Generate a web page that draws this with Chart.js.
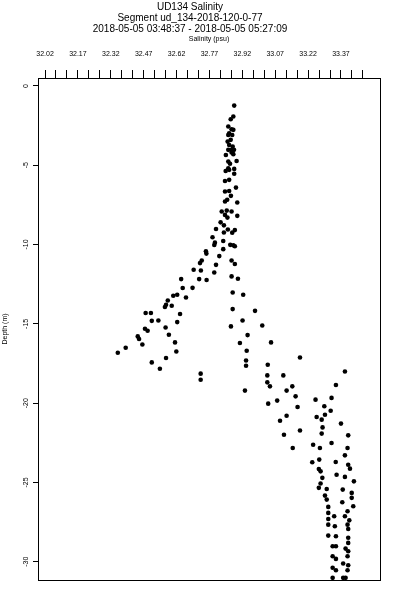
<!DOCTYPE html>
<html>
<head>
<meta charset="utf-8">
<script src="https://cdn.jsdelivr.net/npm/chart.js@4/dist/chart.umd.min.js"></script>
<style>
  body { margin: 0; background: #fff; }
  #wrap { width: 400px; height: 600px; }
</style>
</head>
<body>
<div id="wrap"><canvas id="salinidad" width="400" height="600"></canvas></div>
<script>
// Titulos
const titulo = ["UD134 Salinity", "Segment ud_134-2018-120-0-77", "2018-05-05 03:48:37 - 2018-05-05 05:27:09"];
const tituloX = "Salinity (psu)";
const tituloY = "Depth (m)";

// Marcas del eje X (cada 0.05, etiqueta cada 0.15)
const marcasX = [32.02, 32.07, 32.12, 32.17, 32.22, 32.27, 32.32, 32.37, 32.42, 32.47,
                 32.52, 32.57, 32.62, 32.67, 32.72, 32.77, 32.82, 32.87, 32.92, 32.97,
                 33.02, 33.07, 33.12, 33.17, 33.22, 33.27, 33.32, 33.37, 33.42, 33.47];
const etiquetasX = ["32.02", "32.17", "32.32", "32.47", "32.62", "32.77", "32.92", "33.07", "33.22", "33.37"];
const marcasY = [0, -5, -10, -15, -20, -25, -30];

// Salinidad (psu)
const salinidad = [
  32.883, 32.879, 32.867, 32.856, 32.871, 32.860, 32.874, 32.853, 32.867, 32.876,
  32.860, 32.856, 32.882, 32.871, 32.845, 32.894, 32.856, 32.864, 32.844, 32.860,
  32.883, 32.883, 32.841, 32.860, 32.891, 32.841, 32.860, 32.879, 32.856, 32.856,
  32.879, 32.871, 32.851, 32.841, 32.868, 32.897, 32.826, 32.849, 32.871, 32.841,
  32.897, 32.852, 32.821, 32.836, 32.800, 32.854, 32.886, 32.874, 32.836, 32.784,
  32.833, 32.795, 32.792, 32.865, 32.879, 32.886, 32.833, 32.754, 32.756, 32.815,
  32.735, 32.727, 32.800, 32.871, 32.886, 32.698, 32.731, 32.792, 32.871, 32.900,
  32.641, 32.723, 32.757, 32.648, 32.693, 32.663, 32.623, 32.605, 32.580, 32.572,
  32.567, 32.598, 32.479, 32.503, 32.636, 32.507, 32.537, 32.623, 32.476, 32.488,
  32.570, 32.585, 32.443, 32.449, 32.464, 32.613, 32.619, 32.388, 32.352, 32.507,
  32.572, 32.544, 32.730, 32.730, 32.876, 32.924, 32.876, 32.978, 32.921, 32.868,
  33.011, 32.944, 32.909, 33.051, 32.940, 33.183, 32.937, 32.937, 33.036, 33.388,
  33.034, 33.107, 33.034, 33.046, 33.148, 33.347, 33.122, 32.932, 33.163, 33.079,
  33.038, 33.254, 33.327, 33.172, 33.294, 33.323, 33.122, 33.092, 33.259, 33.297,
  33.282, 33.370, 33.286, 33.183, 33.110, 33.282, 33.403, 33.243, 33.274, 33.327,
  33.400, 33.150, 33.239, 33.271, 33.346, 33.388, 33.403, 33.269, 33.277, 33.350,
  33.388, 33.429, 33.285, 33.277, 33.269, 33.378, 33.419, 33.419, 33.297, 33.305,
  33.376, 33.426, 33.312, 33.312, 33.400, 33.388, 33.312, 33.339, 33.408, 33.312,
  33.400, 33.342, 33.403, 33.312, 33.347, 33.403, 33.403, 33.332, 33.347, 33.391,
  33.403, 33.332, 33.347, 33.400, 33.380, 33.403, 33.332, 33.347, 33.400, 33.332,
  33.380, 33.391, 33.411, 33.305
];

// Profundidad (m)
const profundidad = [
  -1.24, -1.93, -2.10, -2.56, -2.73, -2.98, -3.09, -3.51, -3.40, -3.82,
  -3.72, -4.03, -4.03, -4.20, -4.35, -4.73, -4.77, -4.91, -5.36, -5.29,
  -5.23, -5.54, -5.99, -5.92, -6.41, -6.66, -6.62, -2.77, -3.09, -5.19,
  -4.30, -4.03, -7.18, -7.29, -6.93, -7.35, -7.92, -7.86, -7.92, -8.13,
  -8.19, -8.30, -8.60, -8.79, -9.02, -9.05, -9.09, -9.25, -9.24, -9.54,
  -9.78, -9.88, -10.03, -10.02, -10.05, -10.11, -10.29, -10.43, -10.57, -10.73,
  -11.01, -11.17, -11.28, -11.01, -11.23, -11.59, -11.64, -11.76, -12.01, -12.16,
  -12.18, -12.18, -12.24, -12.74, -12.73, -13.34, -13.17, -13.23, -13.53, -13.80,
  -13.94, -13.86, -14.32, -14.32, -14.38, -14.81, -14.79, -14.89, -15.31, -15.44,
  -15.23, -15.69, -15.79, -15.96, -16.30, -16.17, -16.74, -16.51, -16.82, -17.43,
  -17.15, -17.83, -18.14, -18.52, -13.02, -13.17, -14.07, -14.18, -14.79, -15.16,
  -15.10, -15.71, -16.21, -16.17, -16.70, -17.12, -17.31, -17.64, -17.58, -18.00,
  -18.25, -18.25, -18.69, -18.94, -18.94, -18.86, -19.21, -19.21, -19.57, -19.84,
  -20.03, -19.78, -19.67, -20.24, -20.20, -20.48, -20.79, -21.11, -20.87, -20.73,
  -21.04, -21.29, -21.53, -21.72, -21.99, -21.92, -22.03, -22.62, -22.83, -22.51,
  -22.83, -22.83, -23.73, -23.56, -23.71, -23.29, -23.88, -24.15, -24.30, -24.51,
  -24.65, -24.93, -24.71, -25.07, -25.34, -25.45, -25.66, -25.97, -25.83, -26.08,
  -26.25, -26.50, -26.54, -26.92, -26.82, -27.13, -27.30, -27.13, -27.39, -27.66,
  -27.66, -27.76, -27.93, -28.35, -28.39, -28.49, -28.81, -29.02, -29.02, -29.17,
  -29.34, -29.65, -29.82, -29.65, -30.11, -30.22, -30.38, -30.54, -30.54, -31.01,
  -31.01, -31.01, -24.13, -25.41
];

// Armo los puntos
const puntos = salinidad.map((s, i) => ({ x: s, y: profundidad[i] }));

// Caja completa alrededor del area del grafico
const caja = {
  id: "caja",
  afterDraw(chart) {
    const a = chart.chartArea;
    const ctx = chart.ctx;
    ctx.save();
    ctx.strokeStyle = "#000";
    ctx.lineWidth = 1;
    ctx.strokeRect(Math.round(a.left) + 0.5, Math.round(a.top) + 0.5,
                   Math.round(a.right - a.left), Math.round(a.bottom - a.top));
    ctx.restore();
  }
};

const fuente = "'Liberation Sans', Arial, sans-serif";

new Chart(document.getElementById("salinidad").getContext("2d"), {
  type: "scatter",
  data: {
    datasets: [{
      data: puntos,
      backgroundColor: "#000",
      borderWidth: 0,
      pointRadius: 2.3
    }]
  },
  plugins: [caja],
  options: {
    responsive: false,
    animation: false,
    events: [],
    layout: { padding: { left: 0, right: 20, top: 0, bottom: 20 } },
    plugins: {
      legend: { display: false },
      tooltip: { enabled: false },
      title: {
        display: true,
        text: titulo,
        color: "#000",
        font: { family: fuente, size: 10, weight: "normal", lineHeight: 1.1 },
        padding: { top: 2, bottom: 0 }
      }
    },
    scales: {
      x: {
        type: "linear",
        position: "top",
        min: 31.988,
        max: 33.548,
        afterBuildTicks: (eje) => { eje.ticks = marcasX.map((v) => ({ value: v })); },
        afterFit: (eje) => { eje.height = 43; },
        ticks: {
          autoSkip: false,
          maxRotation: 0,
          padding: 12,
          color: "#000",
          font: { family: fuente, size: 7 },
          callback: (v, i) => (i % 3 === 0 ? etiquetasX[i / 3] : "")
        },
        grid: { drawOnChartArea: false, drawTicks: true, tickLength: 8, color: "#000" },
        border: { display: true, color: "#000" },
        title: {
          display: true,
          text: tituloX,
          color: "#000",
          font: { family: fuente, size: 7, lineHeight: 1 },
          padding: { top: 0.5, bottom: 0 }
        }
      },
      y: {
        type: "linear",
        min: -31.15,
        max: 0.5,
        afterBuildTicks: (eje) => { eje.ticks = marcasY.map((v) => ({ value: v })); },
        afterFit: (eje) => { eje.width = 38; },
        ticks: {
          minRotation: 90,
          maxRotation: 90,
          crossAlign: "center",
          padding: 2,
          color: "#000",
          font: { family: fuente, size: 7 },
          callback: (v) => String(v)
        },
        grid: { drawOnChartArea: false, drawTicks: true, tickLength: 5, color: "#000" },
        border: { display: true, color: "#000" },
        title: {
          display: true,
          text: tituloY,
          color: "#000",
          font: { family: fuente, size: 7, lineHeight: 1 },
          padding: { top: 1.5, bottom: 0 }
        }
      }
    }
  }
});
</script>
</body>
</html>
